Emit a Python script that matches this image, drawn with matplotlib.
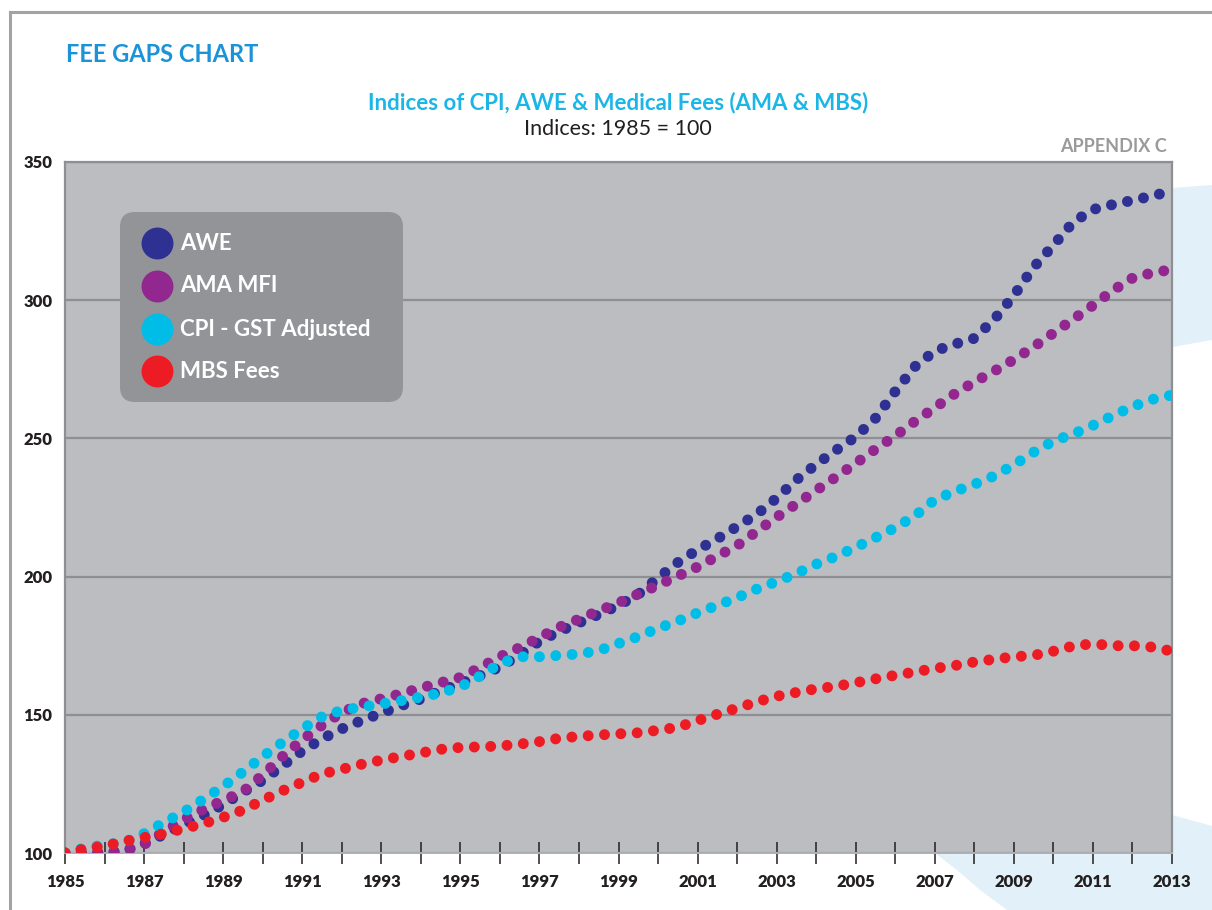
import matplotlib.pyplot as plt
import numpy as np
from matplotlib.patches import FancyBboxPatch, Polygon
from matplotlib.lines import Line2D

plt.rcParams['font.family'] = ['Lato', 'DejaVu Sans']

# half-yearly index values, 1985 = 100
years = np.arange(1985, 2013.01, 0.5)
awe = [100.0, 100.0, 100.2, 100.6, 103.4, 106.7, 110.2, 113.6, 117.5, 122.0,
       126.3, 131.6, 136.9, 141.3, 144.9, 147.9, 150.6, 153.3, 155.7, 158.7,
       161.4, 164.2, 167.3, 171.7, 176.6, 180.2, 183.3, 186.3, 189.6, 193.6,
       199.5, 205.1, 209.7, 213.7, 218.1, 222.6, 228.4, 235.0, 240.6, 245.7,
       250.6, 257.3, 267.0, 276.0, 281.6, 284.1, 286.2, 293.0, 301.7, 311.9,
       319.9, 328.2, 332.8, 334.6, 336.1, 337.7, 339.6]
ama_mfi = [100.0, 100.1, 100.2, 100.9, 103.1, 107.7, 112.1, 115.8, 119.0, 122.2,
           128.2, 134.9, 140.9, 146.2, 150.8, 154.0, 155.8, 157.6, 159.7, 161.6,
           163.5, 167.1, 171.0, 174.3, 178.0, 181.7, 184.6, 187.6, 190.5, 193.7,
           196.9, 200.2, 203.5, 207.4, 211.2, 216.4, 221.5, 226.3, 231.2, 236.0,
           241.0, 246.1, 250.9, 256.2, 261.1, 266.1, 270.4, 274.3, 278.5, 283.1,
           288.1, 293.1, 298.1, 303.5, 308.0, 309.9, 311.1]
cpi_gst = [100.0, 101.8, 102.9, 103.9, 107.0, 111.0, 114.8, 119.4, 124.1, 129.3,
           134.9, 140.0, 144.9, 149.3, 151.6, 152.8, 153.9, 155.1, 156.4, 157.9,
           160.1, 164.0, 168.5, 171.0, 171.0, 171.5, 172.0, 173.2, 175.8, 178.3,
           181.3, 183.9, 186.9, 189.6, 192.4, 195.5, 198.2, 201.1, 204.5, 207.3,
           210.6, 214.1, 217.7, 222.0, 227.8, 230.8, 233.4, 236.4, 240.4, 245.0,
           249.0, 251.6, 254.7, 258.2, 261.5, 264.1, 265.7]
mbs_fees = [100.0, 101.5, 102.5, 104.2, 105.6, 107.0, 108.8, 110.6, 112.9, 115.5,
            119.1, 122.5, 125.6, 128.6, 130.3, 132.1, 133.6, 134.9, 136.2, 137.5,
            138.2, 138.4, 138.7, 139.4, 140.3, 141.5, 142.2, 142.7, 143.1, 143.5,
            144.4, 145.5, 147.9, 150.2, 152.4, 154.7, 156.7, 158.1, 159.4, 160.3,
            161.6, 163.0, 164.3, 165.5, 166.8, 167.8, 169.1, 170.1, 171.0, 171.5,
            173.0, 174.9, 175.7, 175.0, 175.0, 174.5, 173.0]

series_names = ['AWE', 'AMA MFI', 'CPI - GST Adjusted', 'MBS Fees']
series_values = [awe, ama_mfi, cpi_gst, mbs_fees]
series_colors = ['#2E3192', '#92278F', '#00BDE8', '#ED1C24']
draw_order = [2, 0, 1, 3]

W, H = 1212, 910
fig = plt.figure(figsize=(W / 100, H / 100), dpi=100)
inch = fig.dpi_scale_trans


def pin(x, y):
    # pixel from top-left -> inches from bottom-left
    return (x / 100, (H - y) / 100)


# light blue page decoration
top_band = Polygon([pin(1080, 200), pin(1172, 188), pin(1212, 185), pin(1212, 340),
                    pin(1172, 347), pin(1080, 358)], closed=True, transform=inch,
                   fc='#E1F0F9', ec='none', zorder=-2)
bottom_band = Polygon([pin(935, 853), pin(1050, 830), pin(1172, 815), pin(1212, 826),
                       pin(1212, 910), pin(1007, 910), pin(980, 890), pin(957, 870)],
                      closed=True, transform=inch, fc='#E1F0F9', ec='none', zorder=-2)
fig.add_artist(top_band)
fig.add_artist(bottom_band)

# page frame
fig.add_artist(Line2D(*zip(pin(10, 12), pin(10, 910)), transform=inch, color='#A3A3A3', lw=2.2, zorder=-1))
fig.add_artist(Line2D(*zip(pin(10, 12), pin(1212, 12)), transform=inch, color='#A3A3A3', lw=2.2, zorder=-1))

ax = fig.add_axes([65 / W, 57 / H, 1107 / W, 691 / H])
ax.set_facecolor('#BCBDC1')

for i in draw_order:
    ax.plot(years, series_values[i], color=series_colors[i], lw=7.9,
            linestyle=(0, (0.001, 1.49)), dash_capstyle='round', zorder=3 + i)

ax.set_xlim(1985, 2013)
ax.set_ylim(100, 350)
xt = np.arange(1985, 2014)
ax.set_xticks(xt)
ax.set_xticklabels([str(y) if y % 2 == 1 else '' for y in xt], fontweight='heavy',
                   fontsize=12, color='#231F20')
ax.set_yticks([100, 150, 200, 250, 300, 350])
ax.set_yticklabels(['100', '150', '200', '250', '300', '350'], fontweight='heavy',
                   fontsize=12, color='#231F20')
ax.tick_params(axis='x', direction='inout', length=16.5, width=1.1, color='#231F20', pad=7)
ax.tick_params(axis='y', length=0, pad=9)
ax.grid(axis='y', color='#8E8F93', lw=1.6)
ax.set_axisbelow(True)
for side in ['left', 'right', 'top']:
    ax.spines[side].set_color('#8E8F93')
    ax.spines[side].set_linewidth(1.6)
ax.spines['bottom'].set_color('#AEAFB2')
ax.spines['bottom'].set_linewidth(1.4)

# legend box
x0, y0 = pin(120, 402)
fig.add_artist(FancyBboxPatch((x0, y0), 2.83, 1.90, boxstyle='round,pad=0,rounding_size=0.15',
                              transform=inch, fc='#939498', ec='none', zorder=5))
for k, ypx in enumerate([243, 286, 329, 371]):
    cx, cy = pin(157, ypx)
    fig.add_artist(Line2D([cx], [cy], marker='o', ms=23, color=series_colors[k],
                          mec='none', transform=inch, zorder=6))
    tx, ty = pin(180, ypx)
    fig.text(tx / (W / 100), ty / (H / 100), series_names[k], color='white',
             fontweight='bold', fontsize=16, va='center', ha='left', zorder=7)

# titles
fig.text(66 / W, 1 - 54 / H, 'FEE GAPS CHART', color='#1B93D8', fontweight='bold',
         fontsize=17, va='center', ha='left')
fig.text(618 / W, 1 - 103 / H, 'Indices of CPI, AWE & Medical Fees (AMA & MBS)',
         color='#1BB6E6', fontweight='bold', fontsize=16, va='center', ha='center')
fig.text(618 / W, 1 - 129 / H, 'Indices: 1985 = 100', color='#231F20',
         fontsize=15.5, va='center', ha='center')
fig.text(1167 / W, 1 - 147 / H, 'APPENDIX C', color='#9A9A9A', fontweight='bold',
         fontsize=13, va='center', ha='right')

fig.savefig('out.png', dpi=100)
